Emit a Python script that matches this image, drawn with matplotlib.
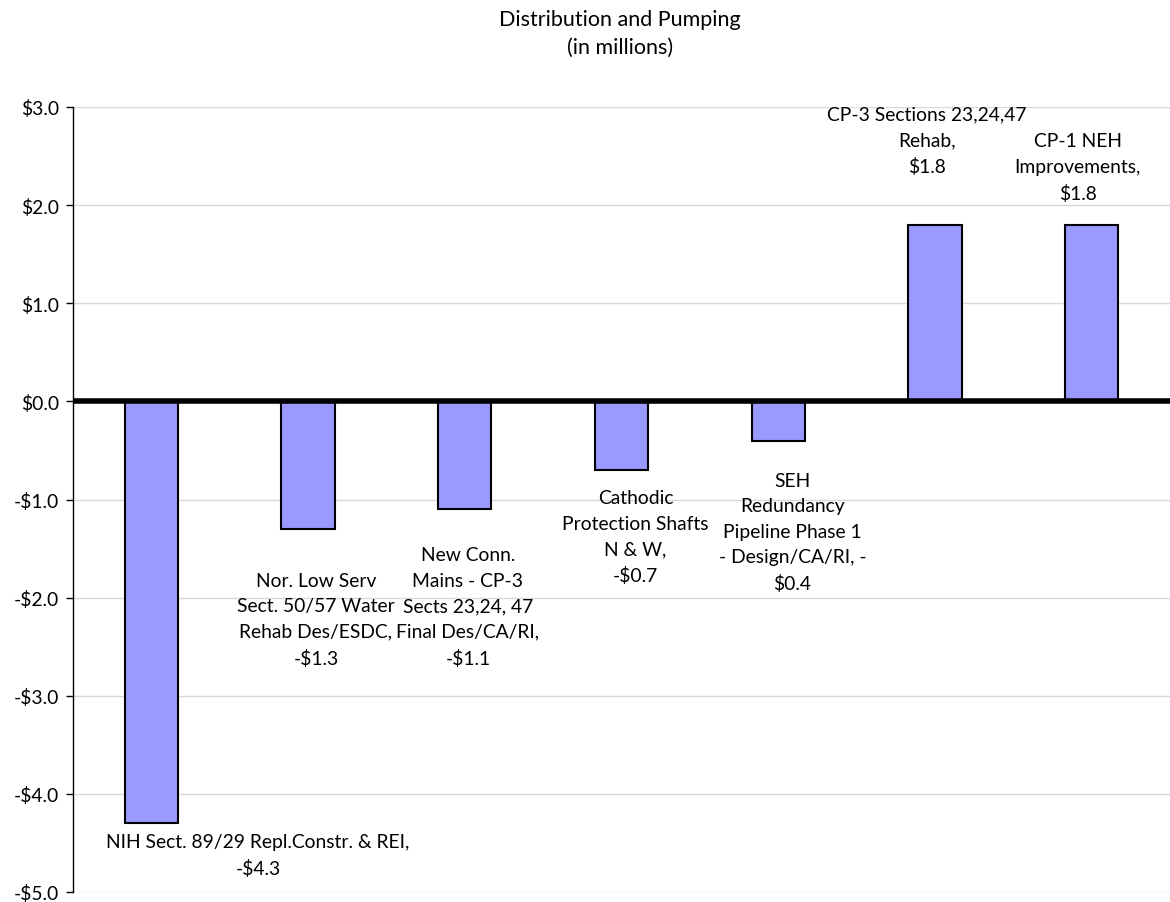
import matplotlib.pyplot as plt

projects = [
    "NIH Sect. 89/29 Repl.Constr. & REI,",
    "Nor. Low Serv\nSect. 50/57 Water\nRehab Des/ESDC,",
    "New Conn.\nMains - CP-3\nSects 23,24, 47\nFinal Des/CA/RI,",
    "Cathodic\nProtection Shafts\nN & W,",
    "SEH\nRedundancy\nPipeline Phase 1\n- Design/CA/RI, -",
    "CP-3 Sections 23,24,47\nRehab,",
    "CP-1 NEH\nImprovements,",
]
changes = [-4.3, -1.3, -1.1, -0.7, -0.4, 1.8, 1.8]
yticks = [3, 2, 1, 0, -1, -2, -3, -4, -5]

# label centres (x in category units, y in $M), placed by hand
label_pos = [(0.68, -4.62), (1.05, -2.22), (2.02, -2.09), (3.09, -1.38), (4.09, -1.33),
             (4.95, 2.66), (5.91, 2.39)]

plt.rcParams['font.family'] = ['Lato', 'DejaVu Sans']

fig = plt.figure(figsize=(11.7, 9.03), dpi=100)
ax = fig.add_axes([73 / 1170, 1 - 893 / 903, 1097 / 1170, 785 / 903])

x = list(range(len(changes)))
ax.bar(x, changes, width=0.34, color='#9999FF', edgecolor='black', linewidth=1.5, zorder=3)
ax.axhline(0, color='black', lw=4, zorder=4)

for i, (name, v) in enumerate(zip(projects, changes)):
    if i == 4:
        # this one wraps the minus sign onto the line above
        txt = name + '\n$%.1f' % abs(v)
    else:
        txt = name + '\n%s$%.1f' % ('-' if v < 0 else '', abs(v))
    lx, ly = label_pos[i]
    ax.text(lx, ly, txt, ha='center', va='center', fontsize=13.9, linespacing=1.6, zorder=5)

ax.set_xlim(-0.5, 6.5)
ax.set_ylim(-5, 3)
ax.set_yticks(yticks)
ax.set_yticklabels(['$%.1f' % t if t >= 0 else '-$%.1f' % abs(t) for t in yticks], fontsize=13.9)
ax.set_xticks([])
ax.yaxis.grid(True, color='#D9D9D9', lw=1, zorder=0)
ax.tick_params(axis='y', length=5, width=1, pad=5)
for s in ['top', 'right', 'bottom']:
    ax.spines[s].set_visible(False)
ax.spines['left'].set_linewidth(1)

fig.text(620 / 1170, 1 - 34 / 903, "Distribution and Pumping\n(in millions)", ha='center', va='center',
         fontsize=15.5, linespacing=1.45)

fig.savefig('out.png', dpi=100)
